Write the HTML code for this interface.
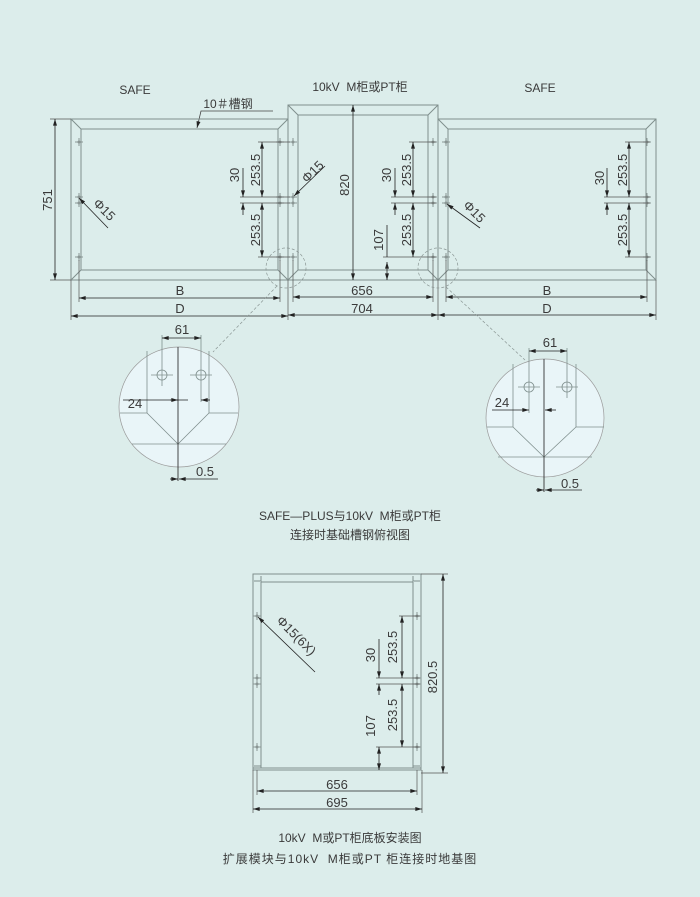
<!DOCTYPE html>
<html><head><meta charset="utf-8"><style>
html,body{margin:0;padding:0;background:#dcedeb;}
svg{display:block}
text{font-family:"Liberation Sans","Noto Sans CJK SC",sans-serif;fill:#3a3a3a;}
</style></head><body>
<svg width="700" height="897" viewBox="0 0 700 897" xmlns="http://www.w3.org/2000/svg">
<defs>
<marker id="a" viewBox="0 0 10 6" refX="10" refY="3" markerWidth="7" markerHeight="4" orient="auto-start-reverse" markerUnits="userSpaceOnUse"><path d="M0,0 L10,3 L0,6z" fill="#222"/></marker>
<g id="h"><line x1="-4" y1="0" x2="4" y2="0" stroke="#8a9694" stroke-width="1"/><line x1="0" y1="-4" x2="0" y2="4" stroke="#8a9694" stroke-width="1"/><circle r="1.5" fill="#8a9694"/></g>
</defs>
<rect width="700" height="897" fill="#dcedeb"/>

<text x="135" y="94" font-size="12" text-anchor="middle">SAFE</text>
<text x="360" y="91" font-size="12" text-anchor="middle">10kV&#160; M柜或PT柜</text>
<text x="540" y="92" font-size="12" text-anchor="middle">SAFE</text>
<text x="228" y="108" font-size="12" text-anchor="middle">10＃槽钢</text>
<polyline points="273,111 201,111 197,128" fill="none" stroke="#444" stroke-width="0.8" marker-end="url(#a)"/>

<g fill="none" stroke="#7f8f8d" stroke-width="1">
<rect x="71" y="119" width="217" height="161"/>
<rect x="81" y="129" width="197" height="141"/>
<line x1="71" y1="119" x2="81" y2="129"/><line x1="288" y1="119" x2="278" y2="129"/>
<line x1="71" y1="280" x2="81" y2="270"/><line x1="288" y1="280" x2="278" y2="270"/>
<rect x="288" y="105" width="150" height="175"/>
<rect x="298" y="115" width="130" height="155"/>
<line x1="288" y1="105" x2="298" y2="115"/><line x1="438" y1="105" x2="428" y2="115"/>
<line x1="288" y1="280" x2="298" y2="270"/><line x1="438" y1="280" x2="428" y2="270"/>
<rect x="438" y="119" width="218" height="161"/>
<rect x="448" y="129" width="198" height="141"/>
<line x1="438" y1="119" x2="448" y2="129"/><line x1="656" y1="119" x2="646" y2="129"/>
<line x1="438" y1="280" x2="448" y2="270"/><line x1="656" y1="280" x2="646" y2="270"/>
</g>

<g>
<use href="#h" x="79" y="142"/><use href="#h" x="79" y="197"/><use href="#h" x="79" y="203"/><use href="#h" x="79" y="257"/>
<use href="#h" x="280" y="142"/><use href="#h" x="280" y="197"/><use href="#h" x="280" y="203"/><use href="#h" x="280" y="257"/>
<use href="#h" x="293" y="142"/><use href="#h" x="293" y="197"/><use href="#h" x="293" y="203"/><use href="#h" x="293" y="257"/>
<use href="#h" x="433" y="142"/><use href="#h" x="433" y="197"/><use href="#h" x="433" y="203"/><use href="#h" x="433" y="257"/>
<use href="#h" x="446" y="142"/><use href="#h" x="446" y="197"/><use href="#h" x="446" y="203"/><use href="#h" x="446" y="257"/>
<use href="#h" x="647" y="142"/><use href="#h" x="647" y="197"/><use href="#h" x="647" y="203"/><use href="#h" x="647" y="257"/>
</g>

<g stroke="#555" stroke-width="0.7" fill="none">
<line x1="50" y1="119" x2="71" y2="119"/><line x1="50" y1="280" x2="71" y2="280"/>
<line x1="71" y1="280" x2="71" y2="320"/><line x1="79" y1="260" x2="79" y2="302"/>
<line x1="280" y1="260" x2="280" y2="302"/><line x1="288" y1="280" x2="288" y2="320"/>
<line x1="293" y1="260" x2="293" y2="302"/><line x1="433" y1="260" x2="433" y2="302"/>
<line x1="438" y1="280" x2="438" y2="320"/><line x1="446" y1="260" x2="446" y2="302"/>
<line x1="647" y1="260" x2="647" y2="302"/><line x1="656" y1="280" x2="656" y2="320"/>
<line x1="258" y1="142" x2="290" y2="142"/><line x1="240" y1="197" x2="290" y2="197"/><line x1="240" y1="203" x2="290" y2="203"/><line x1="258" y1="257" x2="290" y2="257"/>
<line x1="409" y1="142" x2="436" y2="142"/><line x1="391" y1="197" x2="436" y2="197"/><line x1="391" y1="203" x2="436" y2="203"/><line x1="383" y1="257" x2="436" y2="257"/>
<line x1="625" y1="142" x2="650" y2="142"/><line x1="604" y1="197" x2="650" y2="197"/><line x1="604" y1="203" x2="650" y2="203"/><line x1="625" y1="257" x2="650" y2="257"/>
</g>
<g stroke="#222" stroke-width="0.8" fill="none">
<line x1="55" y1="119" x2="55" y2="280" marker-start="url(#a)" marker-end="url(#a)"/>
<line x1="79" y1="298" x2="280" y2="298" marker-start="url(#a)" marker-end="url(#a)"/>
<line x1="71" y1="316" x2="288" y2="316" marker-start="url(#a)" marker-end="url(#a)"/>
<line x1="293" y1="297" x2="433" y2="297" marker-start="url(#a)" marker-end="url(#a)"/>
<line x1="288" y1="315" x2="438" y2="315" marker-start="url(#a)" marker-end="url(#a)"/>
<line x1="446" y1="297" x2="647" y2="297" marker-start="url(#a)" marker-end="url(#a)"/>
<line x1="438" y1="315" x2="656" y2="315" marker-start="url(#a)" marker-end="url(#a)"/>
<line x1="353" y1="105" x2="353" y2="280" marker-start="url(#a)" marker-end="url(#a)"/>
<line x1="262" y1="142" x2="262" y2="197" marker-start="url(#a)" marker-end="url(#a)"/>
<line x1="262" y1="203" x2="262" y2="257" marker-start="url(#a)" marker-end="url(#a)"/>
<line x1="243" y1="168" x2="243" y2="197" marker-end="url(#a)"/><line x1="243" y1="215" x2="243" y2="203" marker-end="url(#a)"/>
<line x1="413" y1="142" x2="413" y2="197" marker-start="url(#a)" marker-end="url(#a)"/>
<line x1="413" y1="203" x2="413" y2="257" marker-start="url(#a)" marker-end="url(#a)"/>
<line x1="395" y1="168" x2="395" y2="197" marker-end="url(#a)"/><line x1="395" y1="215" x2="395" y2="203" marker-end="url(#a)"/>
<line x1="387" y1="225" x2="387" y2="257"/><line x1="387" y1="262" x2="387" y2="280" marker-start="url(#a)" marker-end="url(#a)"/>
<line x1="629" y1="142" x2="629" y2="197" marker-start="url(#a)" marker-end="url(#a)"/>
<line x1="629" y1="203" x2="629" y2="257" marker-start="url(#a)" marker-end="url(#a)"/>
<line x1="607" y1="168" x2="607" y2="197" marker-end="url(#a)"/><line x1="607" y1="215" x2="607" y2="203" marker-end="url(#a)"/>
<line x1="108" y1="228" x2="79" y2="198" marker-end="url(#a)"/>
<line x1="325" y1="166" x2="294" y2="196" marker-end="url(#a)"/>
<line x1="480" y1="228" x2="447" y2="204" marker-end="url(#a)"/>
</g>
<g font-size="13">
<text x="48" y="200" text-anchor="middle" transform="rotate(-90 48 200)" dy="4">751</text>
<text x="180" y="295" text-anchor="middle">B</text>
<text x="180" y="313" text-anchor="middle">D</text>
<text x="362" y="295" text-anchor="middle">656</text>
<text x="362" y="313" text-anchor="middle">704</text>
<text x="547" y="295" text-anchor="middle">B</text>
<text x="547" y="313" text-anchor="middle">D</text>
<text x="345" y="185" text-anchor="middle" transform="rotate(-90 345 185)" dy="4">820</text>
<text x="256" y="170" text-anchor="middle" transform="rotate(-90 256 170)" dy="4">253.5</text>
<text x="256" y="230" text-anchor="middle" transform="rotate(-90 256 230)" dy="4">253.5</text>
<text x="235" y="175" text-anchor="middle" transform="rotate(-90 235 175)" dy="4">30</text>
<text x="407" y="170" text-anchor="middle" transform="rotate(-90 407 170)" dy="4">253.5</text>
<text x="407" y="230" text-anchor="middle" transform="rotate(-90 407 230)" dy="4">253.5</text>
<text x="387" y="175" text-anchor="middle" transform="rotate(-90 387 175)" dy="4">30</text>
<text x="379" y="240" text-anchor="middle" transform="rotate(-90 379 240)" dy="4">107</text>
<text x="623" y="170" text-anchor="middle" transform="rotate(-90 623 170)" dy="4">253.5</text>
<text x="623" y="230" text-anchor="middle" transform="rotate(-90 623 230)" dy="4">253.5</text>
<text x="600" y="178" text-anchor="middle" transform="rotate(-90 600 178)" dy="4">30</text>
<text x="104" y="210" text-anchor="middle" transform="rotate(45 104 210)" dy="4">Φ15</text>
<text x="313" y="172" text-anchor="middle" transform="rotate(-45 313 172)" dy="4">Φ15</text>
<text x="474" y="212" text-anchor="middle" transform="rotate(45 474 212)" dy="4">Φ15</text>
</g>

<g fill="none" stroke="#8a9694" stroke-width="0.7" stroke-dasharray="3,2">
<circle cx="286" cy="268" r="20"/><circle cx="438" cy="268" r="20"/>
<line x1="277" y1="286" x2="213" y2="352"/>
<line x1="446" y1="287" x2="525" y2="360"/>
</g>

<circle cx="179" cy="407" r="60" fill="#e9f5f8" stroke="#999" stroke-width="0.7"/>
<g stroke="#7f8f8d" stroke-width="0.8" fill="none">
<line x1="147" y1="351" x2="147" y2="413"/><line x1="209" y1="351" x2="209" y2="413"/>
<line x1="120" y1="413" x2="147" y2="413"/><line x1="209" y1="413" x2="238" y2="413"/>
<line x1="147" y1="413" x2="178" y2="444"/><line x1="209" y1="413" x2="178" y2="444"/>
<line x1="132" y1="444" x2="226" y2="444"/>
<circle cx="162" cy="375" r="5"/><circle cx="201" cy="375" r="5"/>
<line x1="151" y1="375" x2="173" y2="375"/><line x1="190" y1="375" x2="212" y2="375"/>
<line x1="162" y1="335" x2="162" y2="386"/><line x1="201" y1="335" x2="201" y2="402"/>
</g>
<line x1="178" y1="347" x2="178" y2="481" stroke="#333" stroke-width="0.9"/>
<g stroke="#222" stroke-width="0.8" fill="none">
<line x1="162" y1="338" x2="201" y2="338" marker-start="url(#a)" marker-end="url(#a)"/>
<line x1="123" y1="400" x2="188" y2="400"/>
<line x1="170" y1="400" x2="178" y2="400" marker-end="url(#a)"/><line x1="210" y1="400" x2="201" y2="400" marker-end="url(#a)"/>
<line x1="170" y1="479" x2="178" y2="479" marker-end="url(#a)"/><line x1="218" y1="479" x2="179" y2="479" marker-end="url(#a)"/>
</g>
<text x="182" y="334" font-size="13" text-anchor="middle">61</text>
<text x="135" y="408" font-size="13" text-anchor="middle">24</text>
<text x="205" y="476" font-size="13" text-anchor="middle">0.5</text>

<circle cx="545" cy="418" r="59" fill="#e9f5f8" stroke="#999" stroke-width="0.7"/>
<g stroke="#7f8f8d" stroke-width="0.8" fill="none">
<line x1="513" y1="364" x2="513" y2="427"/><line x1="576" y1="364" x2="576" y2="427"/>
<line x1="487" y1="427" x2="513" y2="427"/><line x1="576" y1="427" x2="604" y2="427"/>
<line x1="513" y1="427" x2="544" y2="457"/><line x1="576" y1="427" x2="544" y2="457"/>
<line x1="498" y1="457" x2="592" y2="457"/>
<circle cx="529" cy="387" r="5"/><circle cx="567" cy="387" r="5"/>
<line x1="518" y1="387" x2="540" y2="387"/><line x1="556" y1="387" x2="578" y2="387"/>
<line x1="529" y1="348" x2="529" y2="413"/><line x1="567" y1="348" x2="567" y2="398"/>
</g>
<line x1="544" y1="359" x2="544" y2="492" stroke="#333" stroke-width="0.9"/>
<g stroke="#222" stroke-width="0.8" fill="none">
<line x1="529" y1="351" x2="567" y2="351" marker-start="url(#a)" marker-end="url(#a)"/>
<line x1="492" y1="410" x2="529" y2="410" marker-end="url(#a)"/>
<line x1="556" y1="410" x2="545" y2="410" marker-end="url(#a)"/>
<line x1="536" y1="490" x2="544" y2="490" marker-end="url(#a)"/><line x1="582" y1="490" x2="545" y2="490" marker-end="url(#a)"/>
</g>
<text x="550" y="347" font-size="13" text-anchor="middle">61</text>
<text x="502" y="407" font-size="13" text-anchor="middle">24</text>
<text x="570" y="488" font-size="13" text-anchor="middle">0.5</text>

<text x="350" y="520" font-size="12" text-anchor="middle">SAFE—PLUS与10kV&#160; M柜或PT柜</text>
<text x="350" y="539" font-size="12" text-anchor="middle">连接时基础槽钢俯视图</text>

<g fill="none" stroke="#7f8f8d" stroke-width="1">
<rect x="253" y="574" width="168" height="196"/>
<line x1="261" y1="582" x2="413" y2="582"/>
<line x1="261" y1="582" x2="261" y2="768"/><line x1="413" y1="582" x2="413" y2="768"/>
<line x1="253" y1="768" x2="421" y2="768"/>
<path d="M254,581 L261,581 L261,576"/><path d="M420,581 L413,581 L413,576"/>
<path d="M254,766 L261,766"/><path d="M420,766 L413,766"/>
</g>
<use href="#h" x="257" y="616"/><use href="#h" x="257" y="678"/><use href="#h" x="257" y="684"/><use href="#h" x="257" y="747"/>
<use href="#h" x="417" y="616"/><use href="#h" x="417" y="678"/><use href="#h" x="417" y="684"/><use href="#h" x="417" y="747"/>
<g stroke="#555" stroke-width="0.7">
<line x1="399" y1="616" x2="420" y2="616"/><line x1="376" y1="678" x2="420" y2="678"/><line x1="376" y1="684" x2="420" y2="684"/><line x1="376" y1="747" x2="420" y2="747"/>
<line x1="421" y1="574" x2="448" y2="574"/><line x1="421" y1="773" x2="448" y2="773"/>
<line x1="257" y1="770" x2="257" y2="795"/><line x1="417" y1="770" x2="417" y2="795"/>
<line x1="253" y1="770" x2="253" y2="813"/><line x1="422" y1="770" x2="422" y2="813"/>
</g>
<g stroke="#222" stroke-width="0.8" fill="none">
<line x1="402" y1="616" x2="402" y2="678" marker-start="url(#a)" marker-end="url(#a)"/>
<line x1="402" y1="684" x2="402" y2="747" marker-start="url(#a)" marker-end="url(#a)"/>
<line x1="379" y1="639" x2="379" y2="678" marker-end="url(#a)"/><line x1="379" y1="695" x2="379" y2="684" marker-end="url(#a)"/>
<line x1="379" y1="747" x2="379" y2="770" marker-start="url(#a)" marker-end="url(#a)"/>
<line x1="443" y1="574" x2="443" y2="773" marker-start="url(#a)" marker-end="url(#a)"/>
<line x1="257" y1="791" x2="417" y2="791" marker-start="url(#a)" marker-end="url(#a)"/>
<line x1="253" y1="809" x2="422" y2="809" marker-start="url(#a)" marker-end="url(#a)"/>
<line x1="315" y1="672" x2="258" y2="617" marker-end="url(#a)"/>
</g>
<g font-size="13">
<text x="296" y="636" text-anchor="middle" transform="rotate(45 296 636)" dy="4">Φ15(6X)</text>
<text x="393" y="647" text-anchor="middle" transform="rotate(-90 393 647)" dy="4">253.5</text>
<text x="393" y="715" text-anchor="middle" transform="rotate(-90 393 715)" dy="4">253.5</text>
<text x="371" y="655" text-anchor="middle" transform="rotate(-90 371 655)" dy="4">30</text>
<text x="371" y="726" text-anchor="middle" transform="rotate(-90 371 726)" dy="4">107</text>
<text x="433" y="677" text-anchor="middle" transform="rotate(-90 433 677)" dy="4">820.5</text>
<text x="337" y="789" text-anchor="middle">656</text>
<text x="337" y="807" text-anchor="middle">695</text>
</g>
<text x="350" y="842" font-size="12" text-anchor="middle">10kV&#160; M或PT柜底板安装图</text>
<text x="350" y="863" font-size="12" text-anchor="middle" letter-spacing="1">扩展模块与10kV&#160; M柜或PT 柜连接时地基图</text>
</svg>
</body></html>
